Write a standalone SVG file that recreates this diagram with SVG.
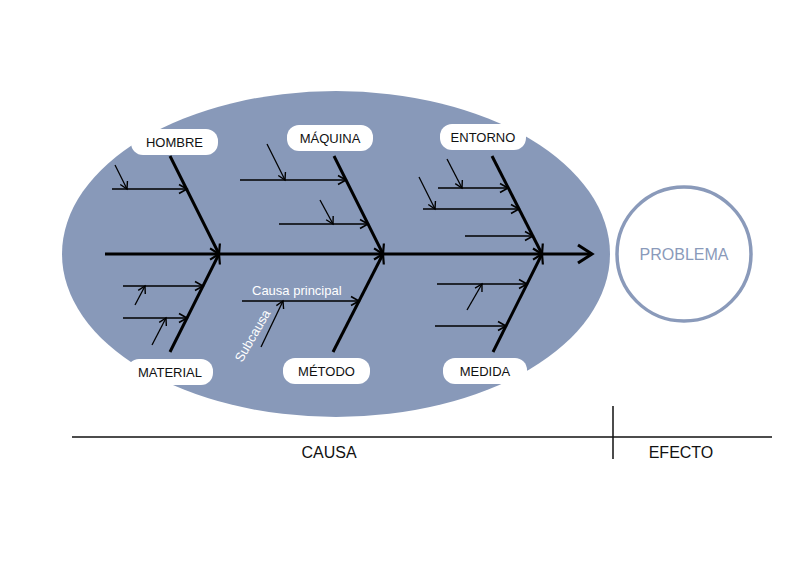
<svg xmlns="http://www.w3.org/2000/svg" width="800" height="564" viewBox="0 0 800 564">
<style>
.lbl{fill:#fff;stroke:none}
.lt{font-family:"Liberation Sans",Arial,sans-serif;font-size:13px;fill:#111;text-anchor:middle}
.bone{stroke:#000;stroke-width:3;fill:none;marker-end:url(#aBone)}
.sub{stroke:#000;stroke-width:1.6;fill:none;marker-end:url(#aSub)}
.ss{stroke:#000;stroke-width:1.3;fill:none;marker-end:url(#aSS)}
.wt{font-family:"Liberation Sans",Arial,sans-serif;font-size:13px;fill:#fff}
.big{font-family:"Liberation Sans",Arial,sans-serif;font-size:16px;fill:#111;text-anchor:middle}
</style>
<defs>
<marker id="aMain" viewBox="-16 -10 18 20" refX="0" refY="0" markerWidth="18" markerHeight="20" markerUnits="userSpaceOnUse" orient="auto" overflow="visible"><path d="M-14,-9 L0,0 L-14,9" fill="none" stroke="#000" stroke-width="3"/></marker>
<marker id="aBone" viewBox="-10 -7 12 14" refX="0" refY="0" markerWidth="12" markerHeight="14" markerUnits="userSpaceOnUse" orient="auto" overflow="visible"><path d="M-9,-5.5 L0,0 L-9,5.5" fill="none" stroke="#000" stroke-width="2.2"/></marker>
<marker id="aSub" viewBox="-10 -6 12 12" refX="0" refY="0" markerWidth="12" markerHeight="12" markerUnits="userSpaceOnUse" orient="auto" overflow="visible"><path d="M-8,-4.5 L0,0 L-8,4.5" fill="none" stroke="#000" stroke-width="1.6"/></marker>
<marker id="aSS" viewBox="-10 -6 12 12" refX="0" refY="0" markerWidth="12" markerHeight="12" markerUnits="userSpaceOnUse" orient="auto" overflow="visible"><path d="M-7,-4 L0,0 L-7,4" fill="none" stroke="#000" stroke-width="1.4"/></marker>
</defs>
<rect width="800" height="564" fill="#fff"/>
<ellipse id="fondo" cx="336" cy="254" rx="274" ry="163" fill="#8899b9"/>
<g id="problema">
<circle cx="684" cy="254" r="67" fill="#fff" stroke="#8a9aba" stroke-width="3.5"/>
<text x="684" y="260" font-family="'Liberation Sans',Arial,sans-serif" font-size="16" fill="#8a9aba" text-anchor="middle">PROBLEMA</text>
</g>
<g id="connectors">
<line x1="105" y1="254" x2="592" y2="254" stroke="#000" stroke-width="3" marker-end="url(#aMain)"/>
<line class="bone" x1="170" y1="156" x2="219" y2="254"/>
<line class="bone" x1="334" y1="156" x2="383" y2="254"/>
<line class="bone" x1="492" y1="156" x2="542" y2="254"/>
<line class="bone" x1="170" y1="352" x2="219" y2="254"/>
<line class="bone" x1="333" y1="352" x2="383" y2="254"/>
<line class="bone" x1="493" y1="352" x2="542" y2="254"/>
<line class="sub" x1="112" y1="189" x2="187" y2="189"/>
<line class="ss" x1="115" y1="165" x2="127" y2="189"/>
<line class="sub" x1="240" y1="180" x2="346" y2="180"/>
<line class="ss" x1="267" y1="144" x2="285" y2="180"/>
<line class="sub" x1="279" y1="224" x2="368" y2="224"/>
<line class="ss" x1="320" y1="200" x2="333" y2="224"/>
<line class="sub" x1="438" y1="188" x2="508" y2="188"/>
<line class="ss" x1="447" y1="159" x2="462" y2="188"/>
<line class="sub" x1="423" y1="209" x2="519" y2="209"/>
<line class="ss" x1="419" y1="177" x2="435" y2="209"/>
<line class="sub" x1="465" y1="236" x2="533" y2="236"/>
<line class="sub" x1="123" y1="286" x2="203" y2="286"/>
<line class="ss" x1="135" y1="305" x2="145" y2="286"/>
<line class="sub" x1="123" y1="318" x2="187" y2="318"/>
<line class="ss" x1="152" y1="345" x2="166" y2="318"/>
<line class="sub" x1="242" y1="301" x2="359" y2="301"/>
<line class="ss" x1="261" y1="347" x2="283" y2="301"/>
<line class="sub" x1="437" y1="284" x2="527" y2="284"/>
<line class="ss" x1="467" y1="310" x2="482" y2="284"/>
<line class="sub" x1="435" y1="326" x2="506" y2="326"/>
</g>
<text class="wt" x="252" y="295">Causa principal</text>
<text class="wt" x="242" y="363" transform="rotate(-60 242 363)">Subcausa</text>
<g id="hombre"><rect class="lbl" x="131" y="129" width="87" height="26" rx="12"/><text class="lt" x="174.5" y="147">HOMBRE</text></g>
<g id="maquina"><rect class="lbl" x="287" y="125" width="86" height="26" rx="12"/><text class="lt" x="330" y="143">MÁQUINA</text></g>
<g id="entorno"><rect class="lbl" x="440" y="124" width="86" height="26" rx="12"/><text class="lt" x="483" y="142">ENTORNO</text></g>
<g id="material"><rect class="lbl" x="127" y="359" width="86" height="26" rx="12"/><text class="lt" x="170" y="377">MATERIAL</text></g>
<g id="metodo"><rect class="lbl" x="283" y="358" width="87" height="26" rx="12"/><text class="lt" x="326.5" y="376">MÉTODO</text></g>
<g id="medida"><rect class="lbl" x="443" y="358" width="84" height="26" rx="12"/><text class="lt" x="485" y="376">MEDIDA</text></g>
<g id="ejes">
<line x1="72" y1="437" x2="772" y2="437" stroke="#111" stroke-width="1.5"/>
<line x1="613" y1="406" x2="613" y2="459" stroke="#111" stroke-width="1.5"/>
<text class="big" x="329" y="458">CAUSA</text>
<text class="big" x="681" y="458">EFECTO</text>
</g>
</svg>
